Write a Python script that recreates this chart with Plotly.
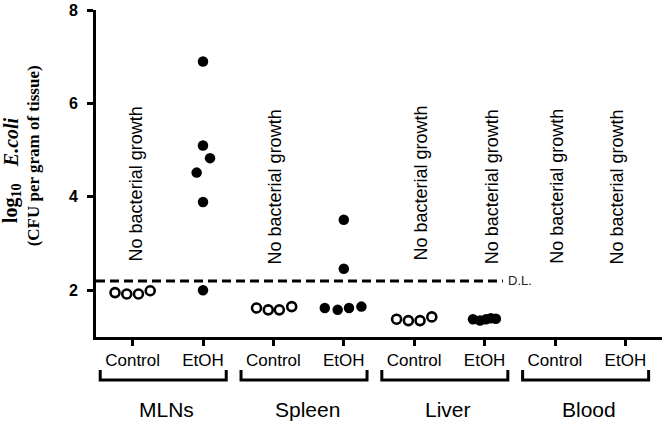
import plotly.graph_objects as go

# categories on the x axis (tissue x treatment)
tick_labels = ['Control', 'EtOH', 'Control', 'EtOH', 'Control', 'EtOH', 'Control', 'EtOH']
groups = ['MLNs', 'Spleen', 'Liver', 'Blood']

# log10 E.coli values, with the small horizontal jitter of each dot
mlns_ctrl = [1.95, 1.92, 1.92, 1.99]
mlns_ctrl_jit = [-0.25, -0.083, 0.083, 0.25]
mlns_etoh = [6.90, 5.10, 4.83, 4.52, 3.89, 2.00]
mlns_etoh_jit = [0.0, 0.0, 0.10, -0.09, 0.0, 0.0]
spleen_ctrl = [1.62, 1.58, 1.58, 1.65]
spleen_ctrl_jit = [-0.24, -0.073, 0.084, 0.26]
spleen_etoh = [3.51, 2.46, 1.62, 1.58, 1.62, 1.65]
spleen_etoh_jit = [0.0, 0.0, -0.27, -0.087, 0.074, 0.25]
liver_ctrl = [1.38, 1.35, 1.35, 1.43]
liver_ctrl_jit = [-0.25, -0.083, 0.083, 0.25]
liver_etoh = [1.38, 1.35, 1.38, 1.40, 1.39]
liver_etoh_jit = [-0.165, -0.065, 0.02, 0.09, 0.16]

detection_limit = 2.2

fig = go.Figure()

open_sets = [(0, mlns_ctrl, mlns_ctrl_jit), (2, spleen_ctrl, spleen_ctrl_jit), (4, liver_ctrl, liver_ctrl_jit)]
filled_sets = [(1, mlns_etoh, mlns_etoh_jit), (3, spleen_etoh, spleen_etoh_jit), (5, liver_etoh, liver_etoh_jit)]

for pos, vals, jit in open_sets:
    fig.add_trace(go.Scatter(x=[pos + j for j in jit], y=vals, mode='markers', cliponaxis=False,
                             marker=dict(symbol='circle-open', size=9, color='black', line=dict(width=2.6))))
for pos, vals, jit in filled_sets:
    fig.add_trace(go.Scatter(x=[pos + j for j in jit], y=vals, mode='markers', cliponaxis=False,
                             marker=dict(symbol='circle', size=10.5, color='black')))

# detection limit
fig.add_shape(type='line', xref='x', yref='y', x0=-0.52, x1=5.26, y0=detection_limit, y1=detection_limit,
              line=dict(color='black', width=3, dash='9px,5px'))
fig.add_annotation(x=5.3, y=detection_limit, xref='x', yref='y', text='D.L.', showarrow=False,
                   xanchor='left', font=dict(family='Liberation Sans', size=13, color='#222'))

# "No bacterial growth" labels
for xp, yp in [(0.05, 4.27), (2.02, 4.22), (4.1, 4.29), (5.1, 4.22), (6.03, 4.22), (6.88, 4.22)]:
    fig.add_annotation(x=xp, y=yp, xref='x', yref='y', text='No bacterial growth', textangle=-90,
                       showarrow=False, font=dict(family='Liberation Sans', size=18, color='black'))

# brackets + group names
for g, name in enumerate(groups):
    x0, x1 = 2 * g - 0.46, 2 * g + 1.33
    fig.add_shape(type='path', xref='x', yref='paper',
                  path=f'M {x0},-0.101 L {x0},-0.1315 L {x1},-0.1315 L {x1},-0.101',
                  line=dict(color='black', width=3))
    fig.add_annotation(x=2 * g + 0.48, y=-0.223, xref='x', yref='paper', text=name, showarrow=False,
                       yanchor='middle', font=dict(family='Liberation Sans', size=21, color='black'))

# y axis title: first line is split in two pieces so the subscript doesn't shrink E.coli
title_font = dict(family='Liberation Serif', size=20, color='black')
fig.add_annotation(x=-0.148, y=0.41, xref='paper', yref='paper', textangle=-90, showarrow=False,
                   xanchor='center', yanchor='middle', text='<b>log<sub>10</sub></b>', font=title_font)
fig.add_annotation(x=-0.150, y=0.596, xref='paper', yref='paper', textangle=-90, showarrow=False,
                   xanchor='center', yanchor='middle', text='<b><i>E.coli</i></b>', font=title_font)
fig.add_annotation(x=-0.111, y=0.553, xref='paper', yref='paper', textangle=-90, showarrow=False,
                   xanchor='center', yanchor='middle',
                   text='<b>(CFU per gram of tissue)</b>',
                   font=dict(family='Liberation Serif', size=17, color='black'))

fig.update_layout(width=665, height=423, showlegend=False, plot_bgcolor='white', paper_bgcolor='white',
                  margin=dict(l=96, r=3, t=10, b=86))
fig.update_xaxes(range=[-0.52, 7.52], tickvals=list(range(8)), ticktext=tick_labels, showgrid=False,
                 zeroline=False, showline=True, linewidth=3, linecolor='black', ticks='outside',
                 ticklen=6, tickwidth=2.5, tickcolor='black',
                 tickfont=dict(family='Liberation Sans', size=17, color='black'))
fig.update_yaxes(range=[0.999, 8.003], tickvals=[2, 4, 6, 8], showgrid=False, zeroline=False, showline=True,
                 linewidth=3, linecolor='black', ticks='outside', ticklen=6, tickwidth=3, tickcolor='black',
                 ticklabelstandoff=6,
                 tickfont=dict(family='Liberation Sans', size=16, color='black', weight='bold'))

# drop the browser's default 8px body margin so the figure fills the window
fig.write_html("out.html", config={'displayModeBar': False},
               post_script="document.body.style.margin='0';")
